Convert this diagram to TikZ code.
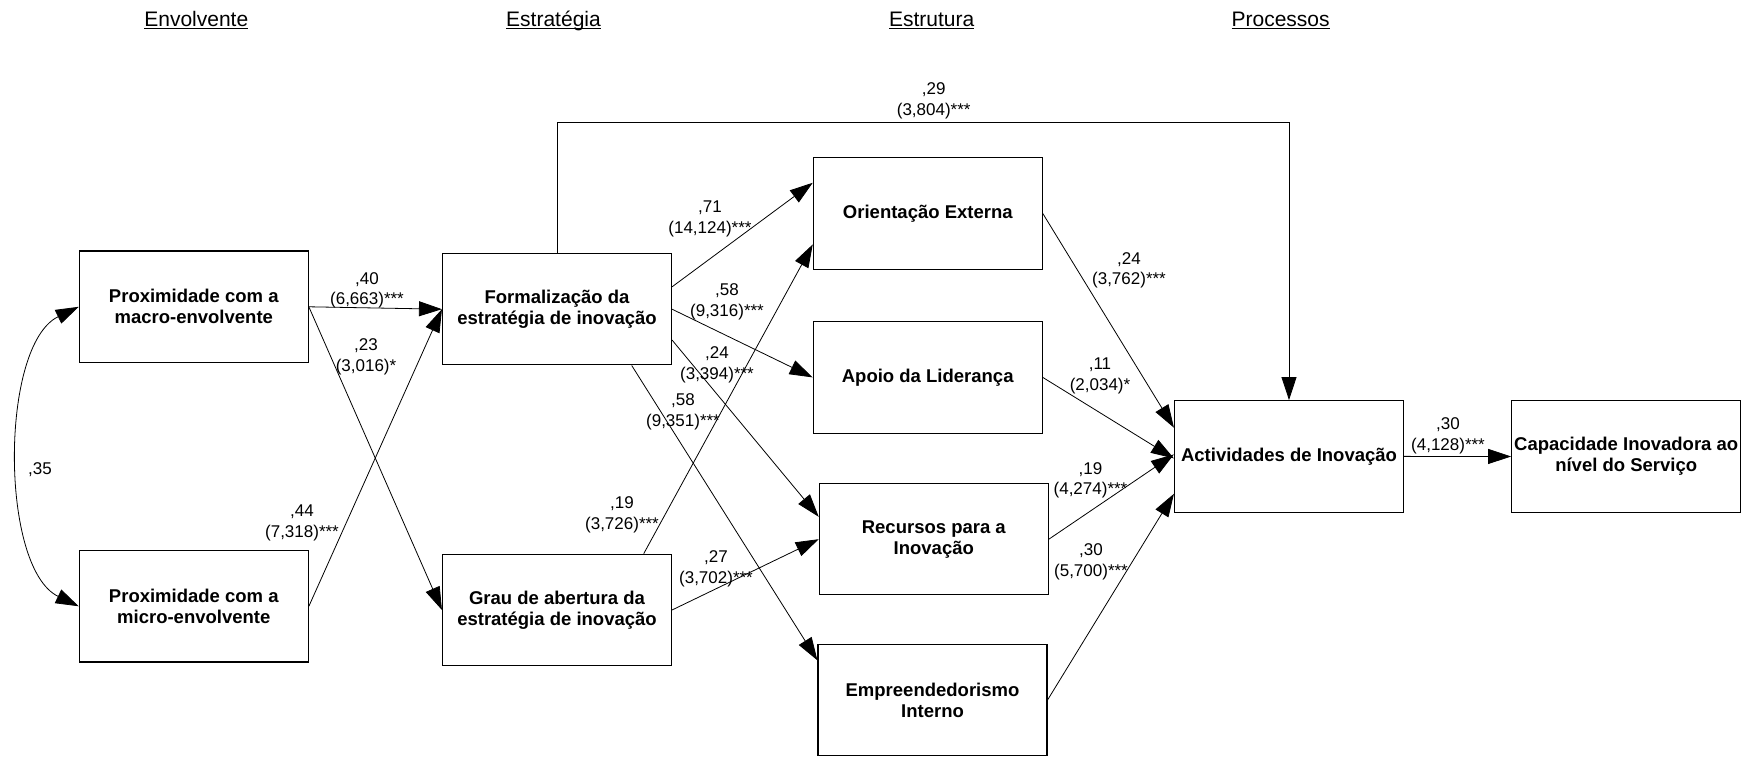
\documentclass[tikz,border=0pt]{standalone}
\usepackage{fontspec}
\setmainfont{Liberation Sans}
\usetikzlibrary{arrows.meta}
\newcommand{\ulhead}[1]{\setbox0=\hbox{#1}\rlap{\rule[-2.6pt]{\wd0}{1.1pt}}\box0}
\tikzstyle{construct} = [
  draw,
  rectangle,
  line width=1.1pt,
  minimum width=229pt,
  minimum height=111.5pt,
  inner sep=0pt,
  align=center,
  font=\fontsize{18.5}{21}\selectfont\bfseries,
]
\tikzstyle{estimate} = [
  align=center,
  inner sep=0pt,
  font=\fontsize{17}{20.5}\selectfont,
]
\tikzstyle{heading} = [
  anchor=base,
  inner sep=0pt,
  font=\fontsize{21}{24}\selectfont,
]
\tikzstyle{causal} = [
  ->,
  line width=0.8pt,
]

\begin{document}
\begin{tikzpicture}[
    x=1pt,
    y=1pt,
    >={Triangle[length=23pt,width=15pt]},
  ]
  \useasboundingbox (0,0) rectangle (1759,757);

  \node[heading] (envolvente) at (196.3,730.3) {\ulhead{Envolvente}};
  \node[heading] (estrategia) at (553.5,730.3) {\ulhead{Estratégia}};
  \node[heading] (estrutura) at (931.7,730.3) {\ulhead{Estrutura}};
  \node[heading] (processos) at (1280.6,730.3) {\ulhead{Processos}};

  \node[construct] (macro) at (193.8,450.2) {Proximidade com a\\macro-envolvente};
  \node[construct] (micro) at (193.8,150.7) {Proximidade com a\\micro-envolvente};
  \node[construct] (form) at (557,447.8) {Formalização da\\estratégia de inovação};
  \node[construct] (grau) at (557,147) {Grau de abertura da\\estratégia de inovação};
  \node[construct] (orient) at (927.8,543.4) {Orientação Externa};
  \node[construct] (apoio) at (927.7,379.6) {Apoio da Liderança};
  \node[construct] (recursos) at (933.8,217.8) {Recursos para a\\Inovação};
  \node[construct] (empreend) at (932.5,57) {Empreendedorismo\\Interno};
  \node[construct] (activ) at (1289,300.6) {Actividades de Inovação};
  \node[construct] (capac) at (1626.2,300.5) {Capacidade Inovadora ao\\nível do Serviço};

  \coordinate (rail) at (934,634.3);

  \draw[causal, <->] (macro.west) .. controls +(-79,-38) and +(-79,38) .. (micro.west);
  \path [causal] (macro.east) edge (form.west);
  \path [causal] (macro.east) edge (grau.west);
  \path [causal] (micro.east) edge (form.west);
  \path [causal] (form.11) edge (orient.165);
  \path [causal] (form.east) edge (apoio.west);
  \path [causal] (form.345) edge (recursos.169);
  \path [causal] (form.323) edge (empreend.161);
  \path [causal] (grau.33) edge (orient.195);
  \path [causal] (grau.east) edge (recursos.west);
  \draw [causal] (form.north) |- (rail) -| (activ.north);
  \path [causal] (orient.east) edge (activ.166);
  \path [causal] (apoio.east) edge (activ.181);
  \path [causal] (recursos.east) edge (activ.179);
  \path [causal] (empreend.east) edge (activ.198);
  \path [causal] (activ.east) edge (capac.west);

  \node[estimate] (e35) at (40,287) {,35};
  \node[estimate] (e40) at (367,466.5) {,40\\(6,663)***};
  \node[estimate] (e23) at (366,400) {,23\\(3,016)*};
  \node[estimate] (e44) at (302,234) {,44\\(7,318)***};
  \node[estimate] (e71) at (710,538) {,71\\(14,124)***};
  \node[estimate] (e58a) at (727,455.3) {,58\\(9,316)***};
  \node[estimate] (e24a) at (717,392.3) {,24\\(3,394)***};
  \node[estimate] (e58b) at (683,345) {,58\\(9,351)***};
  \node[estimate] (e19a) at (622,242) {,19\\(3,726)***};
  \node[estimate] (e27) at (716,188.3) {,27\\(3,702)***};
  \node[estimate] (e29) at (933.7,656) {,29\\(3,804)***};
  \node[estimate] (e24b) at (1129,486.7) {,24\\(3,762)***};
  \node[estimate] (e11) at (1100,381) {,11\\(2,034)*};
  \node[estimate] (e19b) at (1090.5,276.7) {,19\\(4,274)***};
  \node[estimate] (e30a) at (1091,195) {,30\\(5,700)***};
  \node[estimate] (e30b) at (1448,321) {,30\\(4,128)***};
\end{tikzpicture}
\end{document}
